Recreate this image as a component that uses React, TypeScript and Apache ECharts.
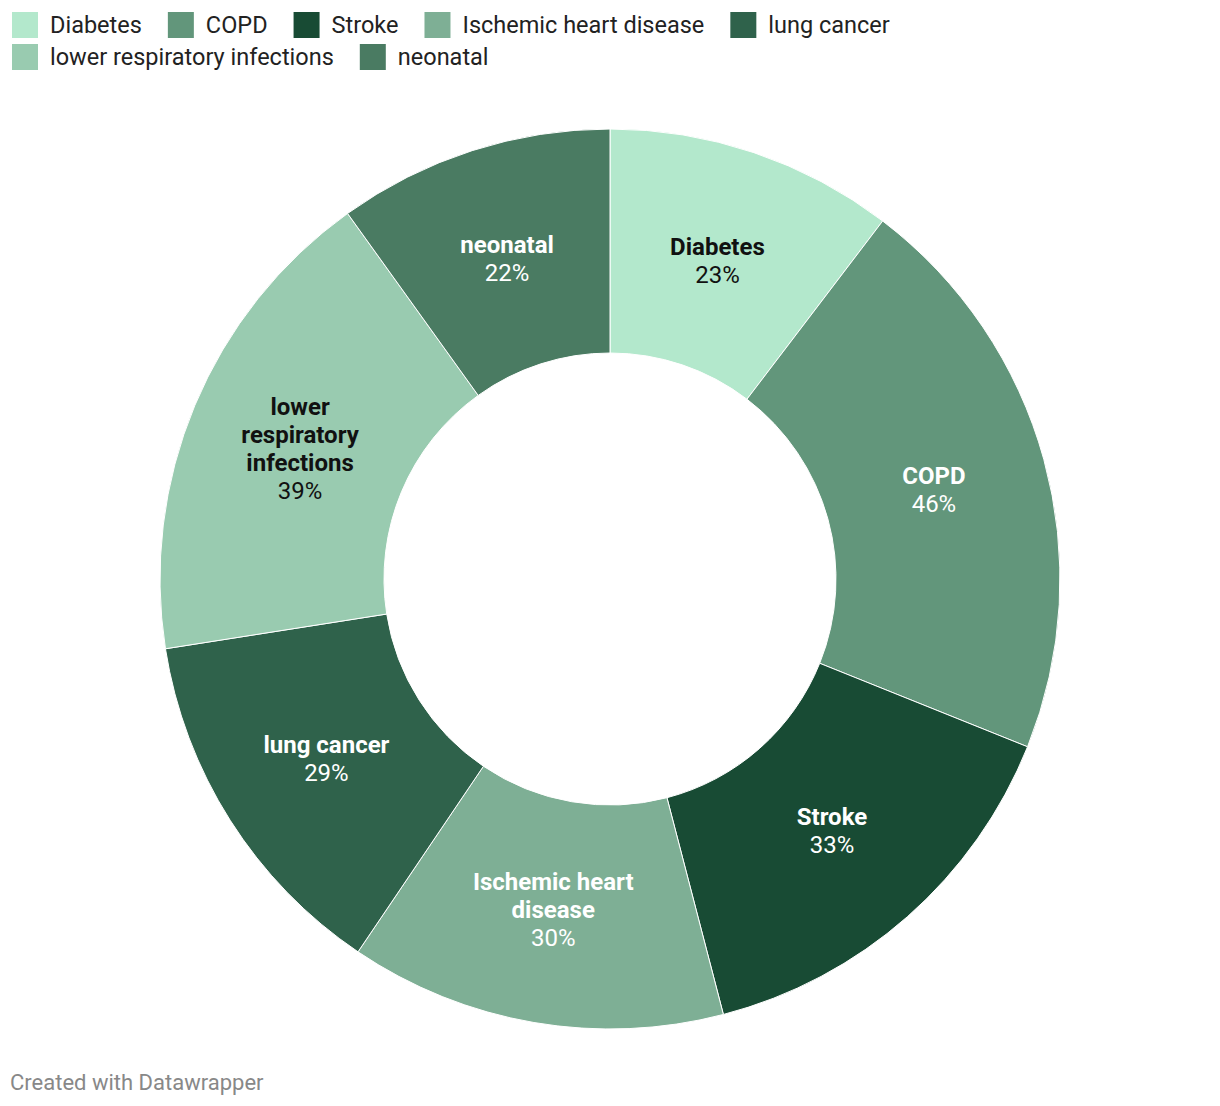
import React, { useEffect, useRef } from "react";
import * as echarts from "echarts";

const categories = [
  "Diabetes",
  "COPD",
  "Stroke",
  "Ischemic heart disease",
  "lung cancer",
  "lower respiratory infections",
  "neonatal",
];
const sliceLabels = [
  "Diabetes",
  "COPD",
  "Stroke",
  "Ischemic heart\ndisease",
  "lung cancer",
  "lower\nrespiratory\ninfections",
  "neonatal",
];
const values = [23, 46, 33, 30, 29, 39, 22];
const colors = ["#b3e8cc", "#62967b", "#184b34", "#7eaf95", "#2f624b", "#99cbb0", "#4a7b62"];
const labelColors = ["#111111", "#ffffff", "#ffffff", "#ffffff", "#ffffff", "#111111", "#ffffff"];
const legendRow1 = categories.slice(0, 5);
const legendRow2 = categories.slice(5);

export default function App() {
  const ref = useRef<HTMLDivElement>(null);
  useEffect(() => {
    if (!ref.current) return;
    const chart = echarts.init(ref.current, null, { renderer: "svg" });
    const legendBase = {
      left: 10,
      itemWidth: 28,
      itemHeight: 28,
      itemGap: 24,
      icon: "rect",
      padding: 0,
      textStyle: { fontSize: 23.5, color: "#222", fontFamily: "Roboto", padding: [0, 0, 0, 6] },
    };
    chart.setOption({
      animation: false,
      backgroundColor: "#ffffff",
      textStyle: { fontFamily: "Roboto" },
      legend: [
        { ...legendBase, top: 10, data: legendRow1 },
        { ...legendBase, top: 42, data: legendRow2 },
      ],
      graphic: [
        {
          type: "text",
          left: 10,
          top: 1071,
          style: { text: "Created with Datawrapper", fontSize: 22, fill: "#888", fontFamily: "Roboto" },
        },
      ],
      series: [
        {
          type: "pie",
          center: [610, 579],
          radius: [226, 450],
          startAngle: 90,
          clockwise: true,
          avoidLabelOverlap: false,
          itemStyle: { borderColor: "#ffffff", borderWidth: 1 },
          emphasis: { disabled: true },
          labelLine: { show: false },
          label: { show: false },
          data: categories.map((c, i) => ({
            name: c,
            value: values[i],
            itemStyle: { color: colors[i] },
          })),
        },
        {
          type: "pie",
          center: [610, 579],
          radius: [226, 440],
          startAngle: 90,
          clockwise: true,
          silent: true,
          avoidLabelOverlap: false,
          itemStyle: { color: "rgba(0,0,0,0)", borderWidth: 0 },
          emphasis: { disabled: true },
          labelLine: { show: false },
          label: {
            show: true,
            position: "inside",
            lineHeight: 28,
            formatter: (p: any) => `{b|${sliceLabels[p.dataIndex]}}\n{v|${p.value}%}`,
            rich: {
              b: { fontSize: 24, fontWeight: "bold", lineHeight: 28, fontFamily: "Roboto", align: "center" },
              v: { fontSize: 24, lineHeight: 28, fontFamily: "Roboto", align: "center" },
            },
          },
          data: categories.map((c, i) => ({
            name: c,
            value: values[i],
            label: { color: labelColors[i], rich: { b: { color: labelColors[i] }, v: { color: labelColors[i] } } },
          })),
        },
      ],
    });
    return () => chart.dispose();
  }, []);
  return <div ref={ref} style={{ position: "absolute", left: 0, top: 0, width: 1220, height: 1106 }} />;
}
